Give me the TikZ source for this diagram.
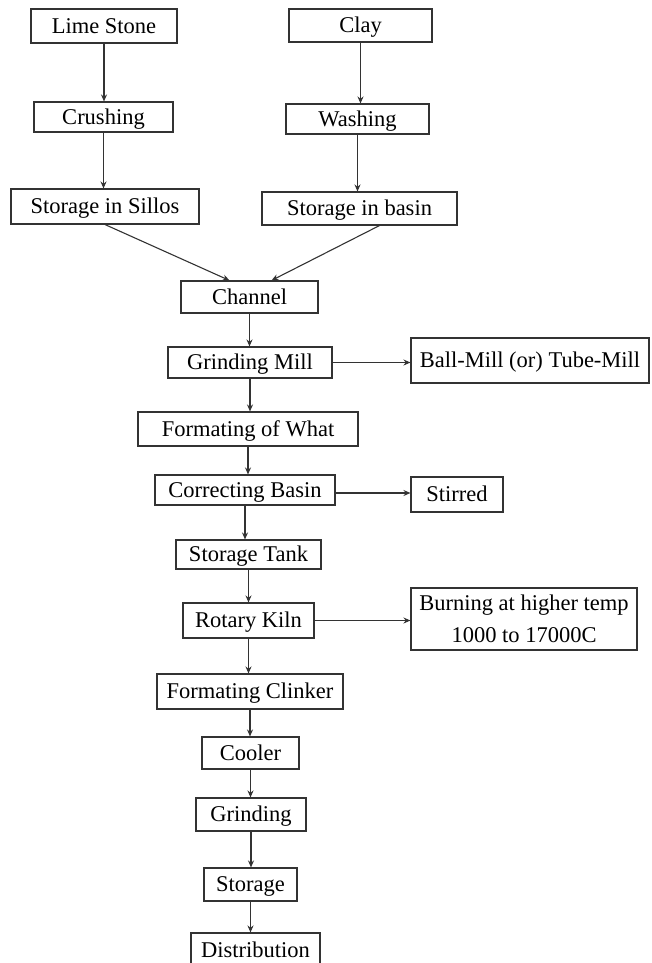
\documentclass[tikz,border=0pt]{standalone}
\usepackage{fontspec}
\setmainfont{Liberation Serif}
\usepackage{tikz}
\usetikzlibrary{arrows.meta,shapes}

\begin{document}
\begin{tikzpicture}[x=1pt, y=-1pt,
  panel/.style={draw=black!80, line width=1.1pt, inner sep=0pt, align=center, font=\fontsize{22.5}{32}\selectfont},
  box/.style={panel, text height=16pt, text depth=1.4pt},
  sz/.style 2 args={minimum width=#1pt, minimum height=#2pt},
  arr/.style={draw=black!80, line width=1.1pt, -{Stealth[length=7pt, width=6pt]}}]

\useasboundingbox (0,0) rectangle (651,963);

% two raw material columns
\node[box, sz={146}{34}] (lime)   at (104,26)    {Lime Stone};
\node[box, sz={139}{30}] (crush)  at (103.5,117) {Crushing};
\node[box, sz={188}{35}] (sillos) at (105,206.5) {Storage in Sillos};

\node[box, sz={143}{33}] (clay)   at (360.5,25.5) {Clay};
\node[box, sz={143}{30}] (wash)   at (357.5,119)  {Washing};
\node[box, sz={195}{33}] (basin)  at (359.5,208.5) {Storage in basin};

% main line
\node[box, sz={137}{32}] (channel) at (249.5,297)   {Channel};
\node[box, sz={164}{31}] (gmill)   at (250,362.5)   {Grinding Mill};
\node[box, sz={220}{34}] (what)    at (248,429)     {Formating of What};
\node[box, sz={180}{30}] (correct) at (245,490)     {Correcting Basin};
\node[box, sz={145}{29}] (tank)    at (248.5,554.5) {Storage Tank};
\node[box, sz={131}{35}] (kiln)    at (248.5,620.5) {Rotary Kiln};
\node[box, sz={186}{35}] (clinker) at (250,691.5)   {Formating Clinker};
\node[box, sz={97}{32}]  (cooler)  at (250.5,753)   {Cooler};
\node[box, sz={110}{33}] (grind)   at (251,814.5)   {Grinding};
\node[box, sz={93}{33}]  (store)   at (250.5,884.5) {Storage};
\node[box, sz={129}{34}] (distrib) at (255.5,950)   {Distribution};

% side boxes
\node[box, sz={238}{45}] (ball)    at (530,360.5)   {Ball-Mill (or) Tube-Mill};
\node[box, sz={92}{35}]  (stirred) at (457,494.5)   {Stirred};
\node[panel, sz={226}{62}] (burn)  at (524,619)     {Burning at higher temp\\1000 to 17000C};

\foreach \a/\b in {lime/crush, crush/sillos, clay/wash, wash/basin}
  \draw[arr] (\a) -- (\a |- \b.north);

\draw[arr] (sillos.south) -- ([xshift=-20pt]channel.north);
\draw[arr] ([xshift=20pt]basin.south) -- ([xshift=22pt]channel.north);

\foreach \a/\b in {channel/gmill, gmill/what, what/correct, correct/tank, tank/kiln,
                   kiln/clinker, clinker/cooler, cooler/grind, grind/store, store/distrib}
  \draw[arr] (\a) -- (\a |- \b.north);

\draw[arr] (gmill.east) -- (gmill.east -| ball.west);
\draw[arr] ([yshift=-3pt]correct.east) -- ([yshift=-3pt]correct.east -| stirred.west);
\draw[arr] (kiln.east) -- (kiln.east -| burn.west);

\end{tikzpicture}
\end{document}
